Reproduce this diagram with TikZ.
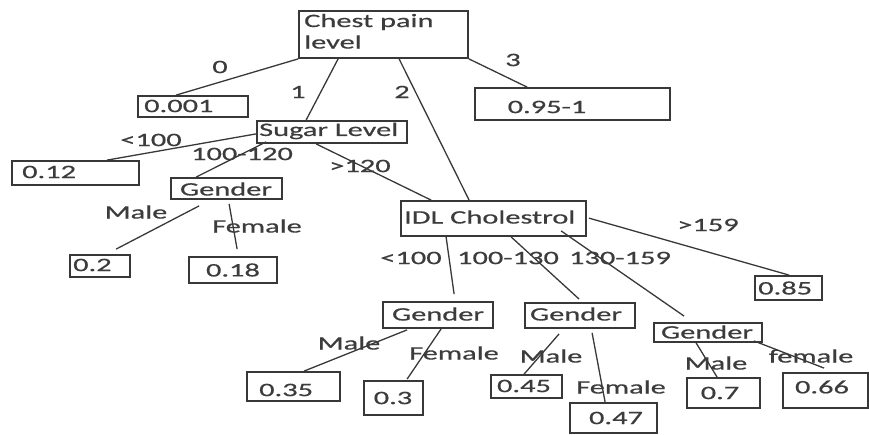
\documentclass[tikz,border=0pt]{standalone}
\usepackage{fontspec}
\setmainfont{Carlito}[FakeStretch=1.6,FakeBold=0.6]
\usetikzlibrary{calc}
\definecolor{ink}{HTML}{383838}
\definecolor{txt}{HTML}{3C3C3C}
\tikzset{
  box/.style={draw=ink, line width=1.8pt, inner sep=0pt},
  conn/.style={draw=ink, line width=1.3pt},
  tx/.style={text=txt, font=\fontsize{19}{21}\selectfont, inner sep=0pt},
  lbl/.style={text=txt, font=\fontsize{19}{21}\selectfont, inner sep=0pt},
}
\newcommand{\bx}[5]{\node[box, minimum width={#4-#2}, minimum height={#5-#3}] (#1) at ({(#2+#4)/2},{(#3+#5)/2}) {};}
\begin{document}
\begin{tikzpicture}[x=1pt,y=-1pt]
\useasboundingbox (0,0) rectangle (869,434);
% boxes
\bx{chest}{299}{11}{468}{58}
\bx{p001}{138}{96}{248}{117}
\bx{p951}{475}{88}{670}{120}
\bx{sugar}{257}{121}{407}{143}
\bx{p012}{12}{161}{139}{185}
\bx{ga}{171}{178}{282}{199}
\bx{p02}{70}{255}{130}{277}
\bx{p018}{189}{257}{277}{283}
\bx{idl}{401}{201}{586}{236}
\bx{p085}{755}{276}{822}{300}
\bx{gb}{383}{302}{493}{328}
\bx{p035}{247}{372}{340}{401}
\bx{p03}{364}{381}{423}{415}
\bx{gc}{525}{303}{635}{328}
\bx{p045}{491}{375}{562}{398}
\bx{p047}{570}{403}{657}{433}
\bx{gd}{654}{323}{762}{342}
\bx{p07}{687}{378}{760}{408}
\bx{p066}{783}{373}{868}{408}
% texts
\node[tx, anchor=west] (tchest1) at (304,22) {Chest pain};
\node[tx, anchor=west] (tchest2) at (304,42) {level};
\node[tx, anchor=west] (t001) at (144,106) {0.001};
\node[tx] (t951) at (547,107) {0.95-1};
\node[tx, anchor=west] (tsugar) at (259,131) {Sugar Level};
\node[tx, anchor=west] (t012) at (22,172) {0.12};
\node[tx] (tga) at (226,189) {Gender};
\node[tx, anchor=west] (t02) at (73,265) {0.2};
\node[tx] (t018) at (233,270) {0.18};
\node[tx, anchor=west] (tidl) at (404,217) {IDL Cholestrol};
\node[tx, anchor=west] (t085) at (758,288) {0.85};
\node[tx] (tgb) at (438,314) {Gender};
\node[tx, anchor=west] (t035) at (259,390) {0.35};
\node[tx] (t03) at (393,398) {0.3};
\node[tx] (tgc) at (576,314) {Gender};
\node[tx] (t045) at (524,386) {0.45};
\node[tx] (t047) at (616,418) {0.47};
\node[tx] (tgd) at (707,332) {Gender};
\node[tx] (t07) at (720,393) {0.7};
\node[tx] (t066) at (822,387) {0.66};
% connectors
\draw[conn] (chest.south west) -- ($(p001.north west)+(39,0)$);
\draw[conn] ($(chest.south west)+(40,0)$) -- ($(sugar.north west)+(50,0)$);
\draw[conn] ($(chest.south west)+(101,0)$) -- ($(idl.north west)+(69,0)$);
\draw[conn] (chest.south east) -- ($(p951.north west)+(53,0)$);
\draw[conn] ($(sugar.south west)+(0,-10)$) -- ($(p012.north west)+(96,0)$);
\draw[conn] ($(sugar.south west)+(10,-2)$) -- ($(ga.north west)+(26,0)$);
\draw[conn] ($(sugar.south west)+(60,0)$) -- ($(idl.north west)+(31,0)$);
\draw[conn] ($(ga.south west)+(29,6)$) -- ($(p02.north west)+(47,-5)$);
\draw[conn] ($(ga.south west)+(59,4)$) -- ($(p018.north west)+(49,-7)$);
\draw[conn] ($(idl.south west)+(46,0)$) -- ($(gb.north west)+(72,-7)$);
\draw[conn] ($(idl.south west)+(111,0)$) -- ($(gc.north west)+(55,-3)$);
\draw[conn] ($(idl.south west)+(161,-6)$) -- ($(gd.north west)+(31,-6)$);
\draw[conn] ($(idl.north east)+(2,18)$) -- ($(p085.north west)+(35,0)$);
\draw[conn] ($(gb.south west)+(25,1)$) -- ($(p035.north west)+(58,0)$);
\draw[conn] ($(gb.south west)+(59,0)$) -- ($(p03.north west)+(44,-1)$);
\draw[conn] ($(gc.south west)+(35,5)$) -- ($(p045.north west)+(34,0)$);
\draw[conn] ($(gc.south west)+(68,4)$) -- ($(p047.north west)+(36,0)$);
\draw[conn] ($(gd.south west)+(43,0)$) -- ($(p07.north west)+(31,0)$);
\draw[conn] ($(gd.south east)+(-9,-2)$) -- ($(p066.north west)+(42,-4)$);
% edge labels
\node[lbl] (l0) at (220,67) {0};
\node[lbl] (l1) at (298,92) {1};
\node[lbl] (l2) at (402,92) {2};
\node[lbl] (l3) at (513,60) {3};
\node[lbl] (ls1) at (151,140) {<100};
\node[lbl] (ls2) at (242,154) {100-120};
\node[lbl] (ls3) at (360,166) {>120};
\node[lbl] (lga1) at (136,212) {Male};
\node[lbl] (lga2) at (257,226) {Female};
\node[lbl] (li1) at (411,258) {<100};
\node[lbl] (li2) at (508,258) {100-130};
\node[lbl] (li3) at (620,258) {130-159};
\node[lbl] (li4) at (708,225) {>159};
\node[lbl] (lgb1) at (349,343) {Male};
\node[lbl] (lgb2) at (454,353) {Female};
\node[lbl] (lgc1) at (551,356) {Male};
\node[lbl] (lgc2) at (621,387) {Female};
\node[lbl] (lgd1) at (716,363) {Male};
\node[lbl] (lgd2) at (811,356) {female};
\end{tikzpicture}
\end{document}
